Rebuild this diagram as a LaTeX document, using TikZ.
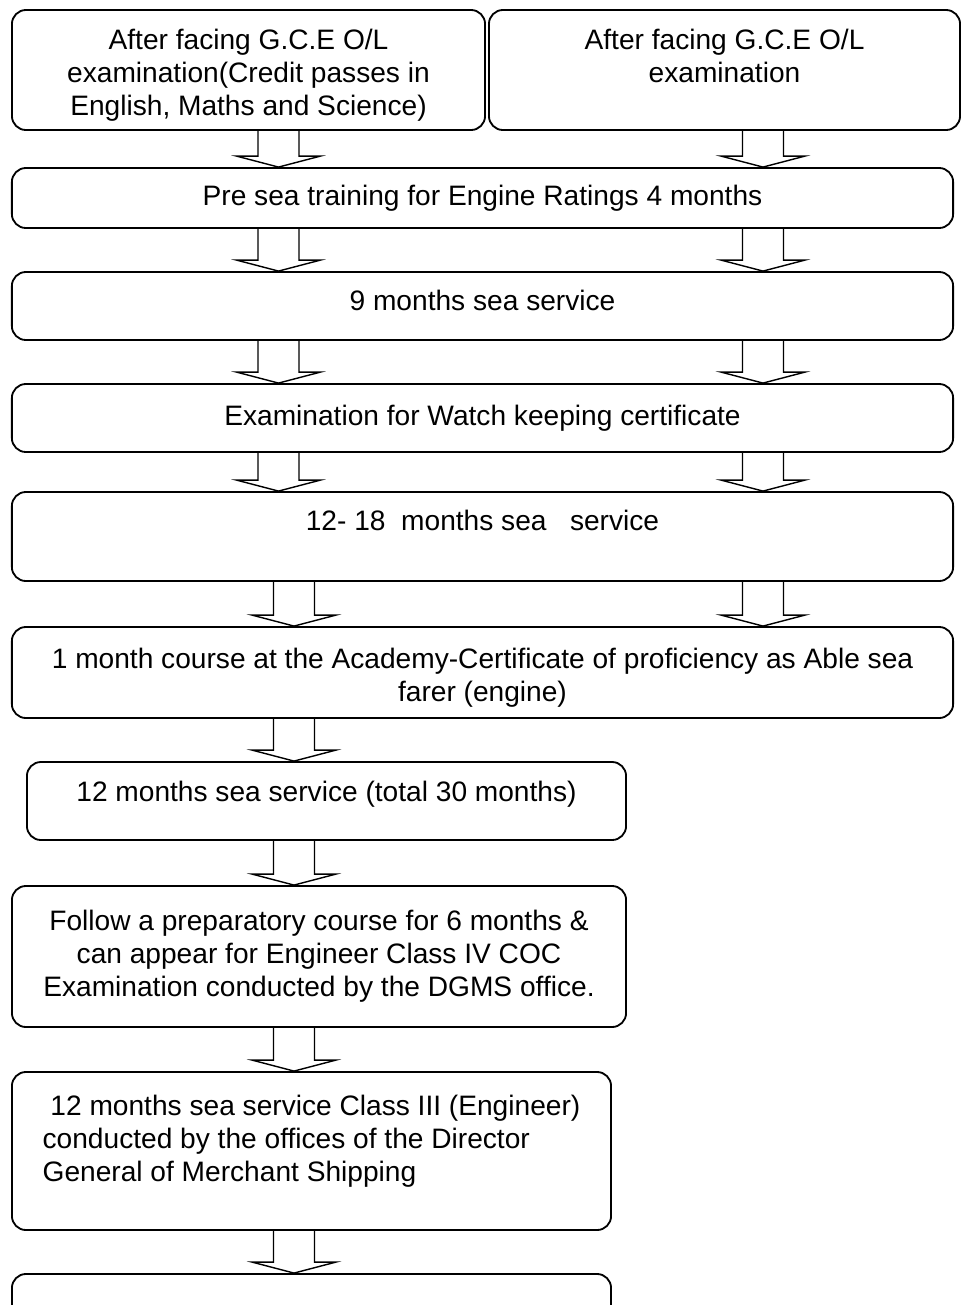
\documentclass[tikz,border=0pt]{standalone}
\usepackage{fontspec}
\setmainfont{Liberation Sans}
\usetikzlibrary{calc}

\begin{document}
\begin{tikzpicture}[x=0.025cm, y=-0.025cm,
        stage/.style={draw, line width=1.3pt, rounded corners=0.35cm, align=center, inner sep=0pt,
            font=\fontsize{20}{23.5}\selectfont},
        blockarrow/.style={draw, line width=1pt, line join=miter}]
                        \useasboundingbox (0,0) rectangle (966,1305);
                        \clip (0,0) rectangle (966,1305);
                        \node[stage, minimum width=11.825cm, minimum height=3cm] (olcred) at (248.5,70) {\rule{0pt}{21.7pt}After facing G.C.E O/L\\examination(Credit passes in\\English, Maths and Science)};
                        \node[stage, minimum width=11.775cm, minimum height=3cm] (olexam) at (724.5,70) {\rule{0pt}{17.7pt}After facing G.C.E O/L\\examination\\\mbox{}};
                        \node[stage, minimum width=23.525cm, minimum height=1.5cm] (presea) at (482.5,198) {Pre sea training for Engine Ratings 4 months};
                        \node[stage, minimum width=23.525cm, minimum height=1.7cm] (sea9) at (482.5,306) {9 months sea service\\[-15pt]\mbox{}};
                        \node[stage, minimum width=23.525cm, minimum height=1.7cm] (watch) at (482.5,418) {Examination for Watch keeping certificate};
                        \node[stage, minimum width=23.525cm, minimum height=2.225cm] (sea12) at (482.5,536.5) {12-~18~~months sea~~~service\\\mbox{}};
                        \node[stage, minimum width=23.525cm, minimum height=2.275cm] (able) at (482.5,672.5) {\rule{0pt}{21.7pt}1 month course at the Academy-Certificate of proficiency as Able sea\\farer (engine)};
                        \node[stage, minimum width=14.975cm, minimum height=1.95cm] (sea30) at (326.5,801) {12 months sea service (total 30 months)\\[-10pt]\mbox{}};
                        \node[stage, minimum width=15.35cm, minimum height=3.525cm] (prep) at (319,956.5) {Follow a preparatory course for 6 months \&\\can appear for Engineer Class IV COC\\Examination conducted by the DGMS office.};
                        \node[stage, align=left, minimum width=14.975cm, minimum height=3.95cm] (class3) at (311.5,1151) {~12 months sea service Class III (Engineer)\\conducted by the offices of the Director\\General of Merchant Shipping\\[-6pt]\mbox{}};
                        \node[stage, minimum width=14.975cm, minimum height=3.95cm] (next) at (311.5,1353) {};
                        \coordinate (lcol) at (278.5,0);
                        \coordinate (rcol) at (763,0);
                        \coordinate (mcol) at (294,0);
                        \foreach \from/\to/\col in {olcred/presea/lcol, olexam/presea/rcol, presea/sea9/lcol, presea/sea9/rcol,
                                sea9/watch/lcol, sea9/watch/rcol, watch/sea12/lcol, watch/sea12/rcol,
                                sea12/able/mcol, sea12/able/rcol, able/sea30/mcol, sea30/prep/mcol,
                                prep/class3/mcol, class3/next/mcol}
                            \draw[blockarrow] ($(\from.south -| \col)+(-20.5,0)$) -- ($(\to.north -| \col)+(-20.5,-11)$)
                                -- ++(-21.5,0) -- (\to.north -| \col) -- ++(42,-11) -- ++(-21.5,0)
                                -- ($(\from.south -| \col)+(20.5,0)$);
                    \end{tikzpicture}
\end{document}
